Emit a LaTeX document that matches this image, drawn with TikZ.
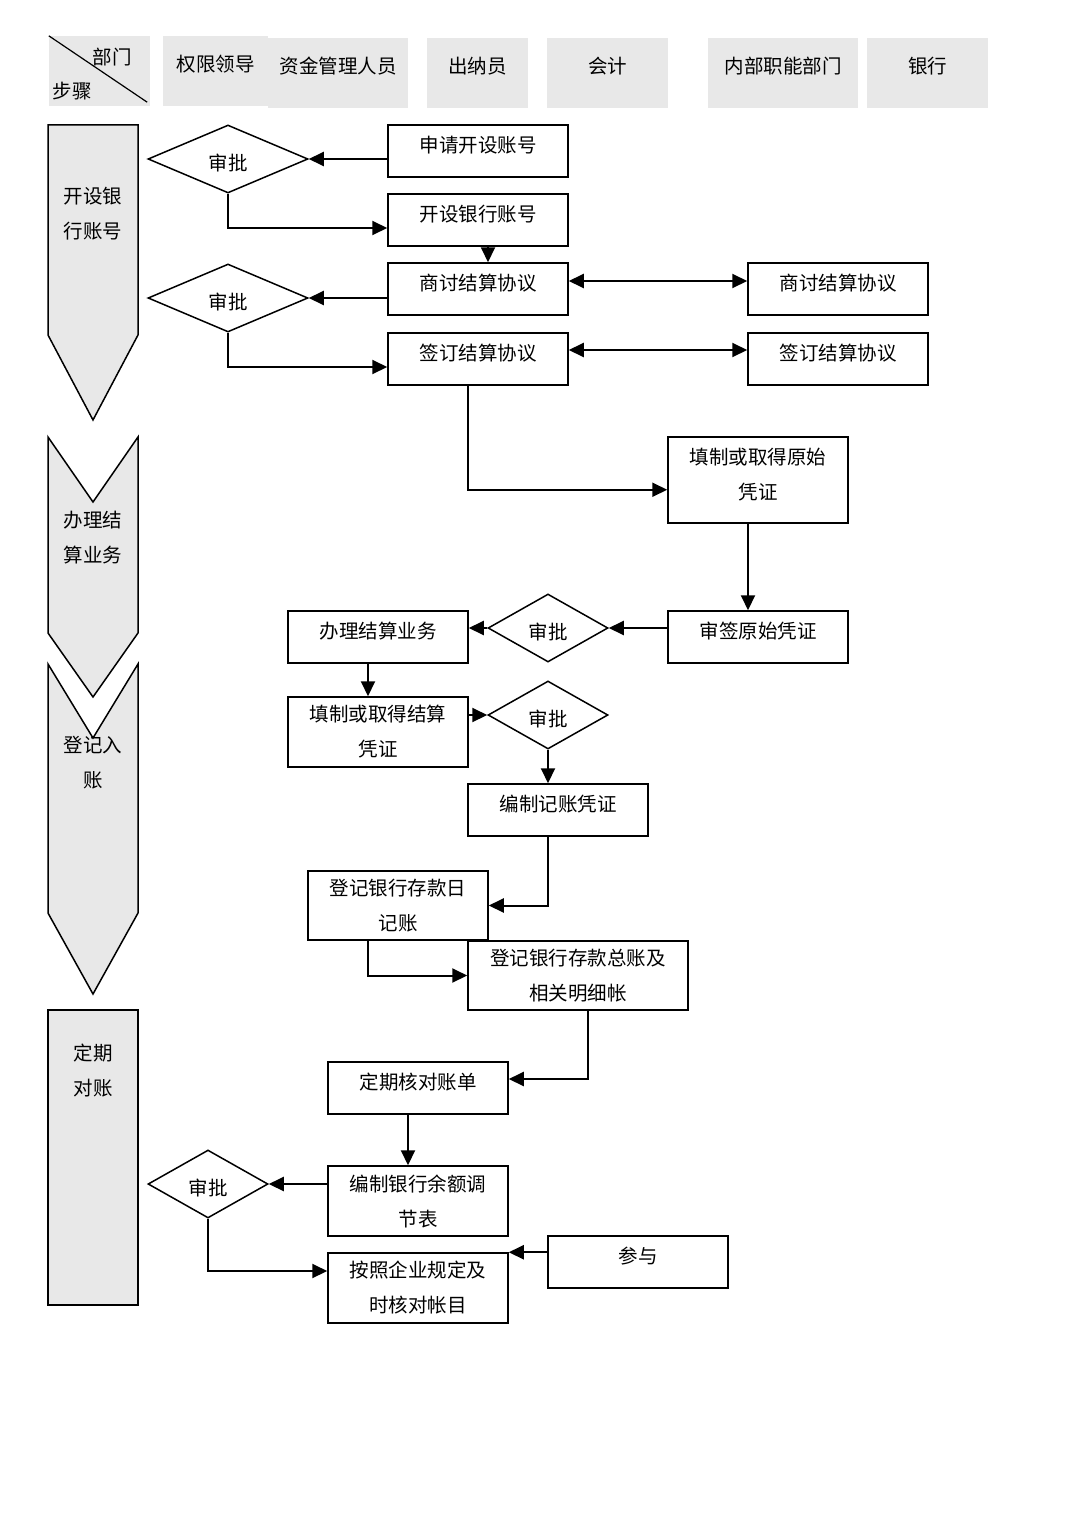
\documentclass[tikz,border=0pt]{standalone}
\usepackage{fontspec}
\setmainfont{Noto Sans CJK SC}
\usepackage{xcolor}
\usetikzlibrary{shapes.geometric}
\usetikzlibrary{positioning}
\usetikzlibrary{arrows.meta,calc}
\definecolor{hdrgray}{HTML}{E8E8E8}

\begin{document}
\begin{tikzpicture}[x=1pt,y=-1pt,
font=\fontsize{19.5pt}{35pt}\selectfont,
>={Triangle[length=15pt,width=14pt]},
box/.style={rectangle,draw,line width=1.5pt,minimum width=180pt,minimum height=52pt,align=center,inner sep=0pt},
onebox/.style={box,text height=17pt,text depth=14pt},
tallbox/.style={box,minimum height=70pt},
check/.style={diamond,draw,line width=1.5pt,minimum width=120pt,minimum height=68pt,inner sep=0pt,text height=25pt,text depth=2pt},
head/.style={fill=hdrgray,minimum height=70pt,inner sep=0pt,text height=17pt,text depth=16pt},
stage/.style={draw,line width=1.5pt,fill=hdrgray},
flow/.style={->,line width=2pt}]
\useasboundingbox (0,0) rectangle (1077,1536);
% header row
\node [head,minimum width=101pt] (steps) at (99.5,71) {};
\draw [line width=1.2pt] (steps.north west) -- ($(steps.south east)+(-3,-4)$);
\node at (112,57) {部门};
\node at (72,91) {步骤};
\node [head,minimum width=105pt] (lead) at (215.5,71) {权限领导};
\node [head,minimum width=140pt] (fund) at (338,73) {资金管理人员};
\node [head,minimum width=101pt] (cashier) at (477.5,73) {出纳员};
\node [head,minimum width=121pt] (acct) at (607.5,73) {会计};
\node [head,minimum width=150pt] (dept) at (783,73) {内部职能部门};
\node [head,minimum width=121pt] (bank) at (927.5,73) {银行};
% stages on the left
\draw [stage] (48,125) -- (138,125) -- (138,335) -- (93,420) -- (48,335) -- cycle;
\node [align=center] (s1) at (93,214) {开设银\\行账号};
\draw [stage] (48,664) -- (93,738) -- (138,664) -- (138,913) -- (93,994) -- (48,913) -- cycle;
\draw [stage] (48,437) -- (93,502) -- (138,437) -- (138,633) -- (93,697) -- (48,633) -- cycle;
\node [align=center] (s2) at (93,537.5) {办理结\\算业务};
\node [align=center] (s3) at (93,762.5) {登记入\\账};
\draw [stage] (48,1010) rectangle (138,1305);
\node [align=center] (s4) at (93,1071) {定期\\对账};
% opening the account
\node [onebox] (apply) at (478,151) {申请开设账号};
\node [check,minimum width=160pt] (d1) at (228,159) {审批};
\node [onebox] (openacct) at (478,220) {开设银行账号};
\node [onebox] (talk) at (478,289) {商讨结算协议};
\node [check,minimum width=160pt] (d2) at (228,298) {审批};
\node [onebox] (sign) at (478,359) {签订结算协议};
\node [onebox] (banktalk) at (838,289) {商讨结算协议};
\node [onebox] (banksign) at (838,359) {签订结算协议};
% settlement
\node [box,minimum height=86pt,text depth=13pt] (orig) at (758,480) {填制或取得原始\\凭证};
\node [onebox] (review) at (758,637) {审签原始凭证};
\node [check] (d3) at (548,628) {审批};
\node [onebox] (handle) at (378,637) {办理结算业务};
\node [tallbox] (voucher) at (378,732) {填制或取得结算\\凭证};
\node [check] (d4) at (548,715) {审批};
% booking
\node [onebox] (bookv) at (558,810) {编制记账凭证};
\node [tallbox,minimum height=69pt] (journal) at (398,905.5) {登记银行存款日\\记账};
\node [tallbox,minimum height=69pt,minimum width=220pt] (ledger) at (578,975.5) {登记银行存款总账及\\相关明细帐};
% reconciliation
\node [onebox] (stmt) at (418,1088) {定期核对账单};
\node [tallbox] (recon) at (418,1201) {编制银行余额调\\节表};
\node [check] (d5) at (208,1184) {审批};
\node [tallbox] (verify) at (418,1288) {按照企业规定及\\时核对帐目};
\node [onebox] (join) at (638,1262) {参与};
% connectors
\draw [flow] (apply.west |- d1.east) -- (d1.east);
\draw [flow] (d1.south) |- ($(openacct.west)+(0,8)$);
\draw [flow] ($(openacct.south)+(10,0)$) -- ($(talk.north)+(10,0)$);
\draw [flow] (talk.west |- d2.east) -- (d2.east);
\draw [flow] (d2.south) |- ($(sign.west)+(0,8)$);
\draw [<->,line width=2pt] ($(talk.east)+(0,-8)$) -- ($(banktalk.west)+(0,-8)$);
\draw [<->,line width=2pt] ($(sign.east)+(0,-9)$) -- ($(banksign.west)+(0,-9)$);
\draw [flow] ($(sign.south)+(-10,0)$) |- ($(orig.west |- orig.south)+(0,-34)$);
\draw [flow] ($(orig.south)+(-10,0)$) -- ($(review.north)+(-10,0)$);
\draw [flow] (review.west |- d3.east) -- (d3.east);
\draw [flow] (d3.west) -- (handle.east |- d3.west);
\draw [flow] ($(handle.south)+(-10,0)$) -- ($(voucher.north)+(-10,0)$);
\draw [flow] (voucher.east |- d4.west) -- (d4.west);
\draw [flow] (d4.south) -- (d4.south |- bookv.north);
\draw [flow] ($(bookv.south)+(-10,0)$) |- (journal.east);
\draw [flow] ($(journal.south)+(-30,0)$) |- (ledger.west);
\draw [flow] ($(ledger.south)+(10,0)$) |- ($(stmt.east)+(0,-9)$);
\draw [flow] ($(stmt.south)+(-10,0)$) -- ($(recon.north)+(-10,0)$);
\draw [flow] (recon.west |- d5.east) -- (d5.east);
\draw [flow] (d5.south) |- ($(verify.west)+(0,-17)$);
\draw [flow] (join.west |- verify.north east) -- (verify.north east);
\end{tikzpicture}
\end{document}
